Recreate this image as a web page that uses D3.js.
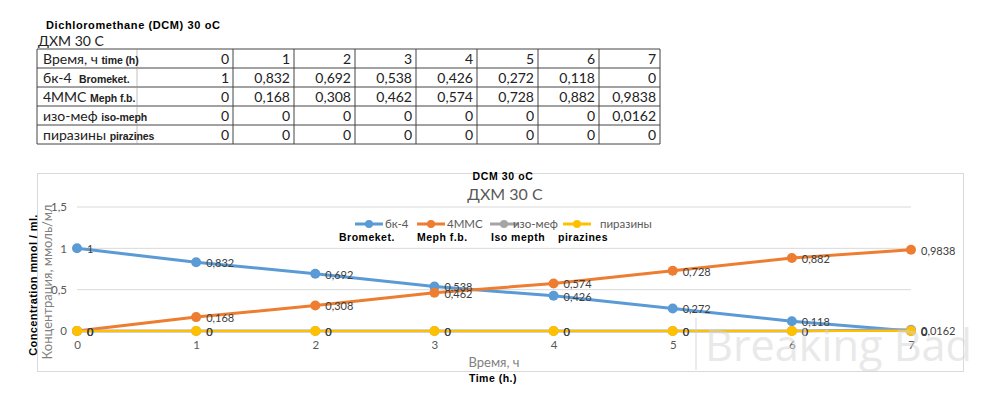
<!DOCTYPE html>
<html>
<head>
<meta charset="utf-8">
<script src="https://cdn.jsdelivr.net/npm/d3@7"></script>
<style>
  body { margin: 0; background: #fff; }
  svg { display: block; }
</style>
</head>
<body>
<svg id="chart" width="990" height="394"></svg>
<script>
// data
const times = [0, 1, 2, 3, 4, 5, 6, 7];
const bromeket = [1, 0.832, 0.692, 0.538, 0.426, 0.272, 0.118, 0];
const meph = [0, 0.168, 0.308, 0.462, 0.574, 0.728, 0.882, 0.9838];
const isoMeph = [0, 0, 0, 0, 0, 0, 0, 0.0162];
const pirazines = [0, 0, 0, 0, 0, 0, 0, 0];
const seriesRu = ["бк-4", "4ММС", "изо-меф", "пиразины"];
const seriesEn = ["Bromeket.", "Meph f.b.", "Iso mepth", "pirazines"];
const tableEn = ["Bromeket.", "Meph f.b.", "iso-meph", "pirazines"];
const yTicks = [0, 0.5, 1, 1.5];
const colors = ["#5b9bd5", "#ed7d31", "#a5a5a5", "#ffc000"];

const allSeries = [bromeket, meph, isoMeph, pirazines];
const fmt = v => String(v).replace(".", ",");
const svg = d3.select("#chart");
const gray = "#595959";
const body = "Lato, 'Open Sans', sans-serif";
const bold = "'Liberation Sans', Arial, sans-serif";

// ---------- header + table ----------
svg.append("text").attr("x", 46).attr("y", 29)
  .attr("font-family", bold).attr("font-weight", "bold").attr("font-size", 11)
  .attr("letter-spacing", 0.6).text("Dichloromethane (DCM) 30 oC");
svg.append("text").attr("x", 38).attr("y", 46)
  .attr("font-family", body).attr("font-size", 14).attr("fill", "#222").text("ДХМ 30 С");

const colX = d3.scaleLinear().domain([0, 7]).range([233, 660]); // right edge of each value column
const rowY = d3.scaleLinear().domain([0, 5]).range([49, 144]);
const tbl = svg.append("g");
const rows = [
  { ru: "Время, ч", en: "time (h)", vals: times },
  ...allSeries.map((s, i) => ({ ru: seriesRu[i], en: tableEn[i], vals: s }))
];
// borders
d3.range(6).forEach(r => tbl.append("line")
  .attr("x1", 37).attr("x2", 660).attr("y1", rowY(r)).attr("y2", rowY(r))
  .attr("stroke", "#444").attr("stroke-width", 1));
[37, ...times.map(t => colX(t))].forEach(x => tbl.append("line")
  .attr("x1", x).attr("x2", x).attr("y1", rowY(0)).attr("y2", rowY(5))
  .attr("stroke", "#444").attr("stroke-width", 1));
tbl.append("line").attr("x1", 137).attr("x2", 137).attr("y1", rowY(0)).attr("y2", rowY(5))
  .attr("stroke", "#999").attr("stroke-width", 0.6);

rows.forEach((row, r) => {
  const y = rowY(r) + 14.5;
  const t = tbl.append("text").attr("x", 43).attr("y", y)
    .attr("font-family", body).attr("font-size", 14).attr("fill", "#222");
  t.append("tspan").text(row.ru + (r === 0 ? "  " : " "));
  t.append("tspan").attr("font-family", bold).attr("font-weight", "bold")
    .attr("font-size", 10.5).attr("letter-spacing", -0.1).attr("dx", r === 1 ? 4 : 0).text(row.en);
  row.vals.forEach((v, i) => tbl.append("text")
    .attr("x", colX(i) - 4).attr("y", y).attr("text-anchor", "end")
    .attr("font-family", body).attr("font-size", 14).attr("fill", "#222")
    .text(fmt(v)));
});

// ---------- chart ----------
svg.append("rect").attr("x", 37.5).attr("y", 173.5).attr("width", 926).attr("height", 198)
  .attr("fill", "none").attr("stroke", "#d9d9d9");

svg.append("text").attr("x", 503).attr("y", 180).attr("text-anchor", "middle")
  .attr("font-family", bold).attr("font-weight", "bold").attr("font-size", 10.5)
  .attr("letter-spacing", 0.6).text("DCM 30 oC");
svg.append("text").attr("x", 505).attr("y", 200).attr("text-anchor", "middle")
  .attr("font-family", body).attr("font-size", 16).attr("fill", gray).text("ДХМ 30 С");

const x = d3.scaleLinear().domain([0, 7]).range([77, 911]);
const y = d3.scaleLinear().domain([0, 1.5]).range([331, 207]);

// gridlines
svg.append("g").selectAll("line").data(yTicks).join("line")
  .attr("x1", x(0)).attr("x2", x(7)).attr("y1", d => y(d)).attr("y2", d => y(d))
  .attr("stroke", d => d === 0 ? "#bfbfbf" : "#d9d9d9").attr("stroke-width", 1);

// axes via d3
const yAxis = svg.append("g").attr("transform", `translate(${x(0)},0)`)
  .call(d3.axisLeft(y).tickValues(yTicks).tickFormat(fmt).tickSize(0).tickPadding(10));
const xAxis = svg.append("g").attr("transform", `translate(0,${y(0)})`)
  .call(d3.axisBottom(x).tickValues(times).tickFormat(fmt).tickSize(0).tickPadding(10));
[yAxis, xAxis].forEach(a => {
  a.select(".domain").remove();
  a.selectAll("text").attr("font-family", body).attr("font-size", 11.5).attr("fill", gray);
});

// axis titles
svg.append("text").attr("x", 494).attr("y", 367).attr("text-anchor", "middle")
  .attr("font-family", body).attr("font-size", 13).attr("fill", "#7f7f7f").text("Время, ч");
svg.append("text").attr("x", 493).attr("y", 382).attr("text-anchor", "middle")
  .attr("font-family", bold).attr("font-weight", "bold").attr("font-size", 10.5)
  .attr("letter-spacing", 0.5).text("Time (h.)");
svg.append("text").attr("transform", "translate(52,282) rotate(-90)").attr("text-anchor", "middle")
  .attr("font-family", body).attr("font-size", 13).attr("fill", "#7f7f7f").text("Концентрация, ммоль/мл");
svg.append("text").attr("transform", "translate(37,285) rotate(-90)").attr("text-anchor", "middle")
  .attr("font-family", bold).attr("font-weight", "bold").attr("font-size", 11)
  .attr("letter-spacing", 0.4).text("Concentration mmol / ml.");

// series
const line = d3.line().x((d, i) => x(times[i])).y(d => y(d));
allSeries.forEach((s, k) => {
  const g = svg.append("g");
  g.append("path").datum(s).attr("d", line).attr("fill", "none")
    .attr("stroke", colors[k]).attr("stroke-width", k === 3 ? 2 : 3).attr("stroke-linecap", "round");
  g.selectAll("circle").data(s).join("circle")
    .attr("cx", (d, i) => x(times[i])).attr("cy", d => y(d)).attr("r", 5)
    .attr("fill", colors[k]);
});
allSeries.forEach((s, k) => {
  svg.append("g").selectAll("text").data(s).join("text")
    .attr("x", (d, i) => x(times[i]) + 10)
    .attr("y", d => y(d) + 1).attr("dy", "0.35em")
    .attr("font-family", body).attr("font-size", 11).attr("fill", "#404040")
    .text(fmt);
});

// legend
const legX = [355, 417, 490, 563];
const legTextX = [385, 447, 513, 600];
const enX = [339, 417, 491, 558];
seriesRu.forEach((name, k) => {
  const g = svg.append("g");
  g.append("line").attr("x1", legX[k]).attr("x2", legX[k] + 28).attr("y1", 224).attr("y2", 224)
    .attr("stroke", colors[k]).attr("stroke-width", 3);
  g.append("circle").attr("cx", legX[k] + 14).attr("cy", 224).attr("r", 4).attr("fill", colors[k]);
  g.append("text").attr("x", legTextX[k]).attr("y", 228)
    .attr("font-family", body).attr("font-size", 11.5).attr("fill", gray).text(name);
  g.append("text").attr("x", enX[k]).attr("y", 241)
    .attr("font-family", bold).attr("font-weight", "bold").attr("font-size", 10.5)
    .attr("letter-spacing", 0.5).text(seriesEn[k]);
});

// watermark
const wm = svg.append("g").attr("opacity", 0.5);
wm.append("line").attr("x1", 696).attr("x2", 696).attr("y1", 318).attr("y2", 370)
  .attr("stroke", "#ccc").attr("stroke-width", 1.5);
wm.append("text").attr("x", 705).attr("y", 361)
  .attr("font-family", "'Open Sans', sans-serif").attr("font-size", 44).attr("fill", "#d4d4d4")
  .attr("textLength", 267).attr("lengthAdjust", "spacingAndGlyphs").text("Breaking Bad");
</script>
</body>
</html>
